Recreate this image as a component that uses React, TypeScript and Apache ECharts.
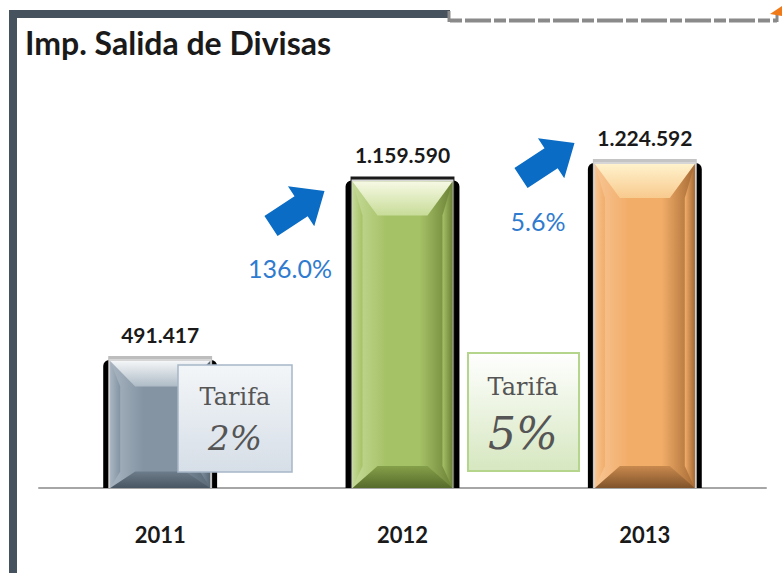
import React, { useEffect, useRef } from "react";
import * as echarts from "echarts";

// ---- data ----
const years = ["2011", "2012", "2013"];
const values = [491417, 1159590, 1224592];
const tarifaTitle = "Tarifa";
const tarifaRates = ["2%", "5%"];
const chartTitle = "Imp. Salida de Divisas";

// ---- styles ----
const palettes = [
  { base: "#8494a3", sideL: "#a9b5c1", sideR: "#5a6875", light: "#f4f6f8", topMid: "#aebbc6", dark: "#485562", bmid: "#6e7d8b", strip: "#bdbdbd" },
  { base: "#a6c267", sideL: "#c4d997", sideR: "#6b8136", light: "#f6f9e4", topMid: "#c8dc98", dark: "#566a2a", bmid: "#85a04a", strip: "#1a1a1a" },
  { base: "#f2ad69", sideL: "#f7c594", sideR: "#a56a34", light: "#fff2cc", topMid: "#f8ca8e", dark: "#80532a", bmid: "#c98a4e", strip: "#c4c4c4" },
];

const fmt = (v: number) => String(v).replace(/\B(?=(\d{3})+(?!\d))/g, ".");
const pct = (a: number, b: number) => ((b / a - 1) * 100).toFixed(1) + "%";

const lg = (x2: number, y2: number, stops: string[]) =>
  new echarts.graphic.LinearGradient(
    0, 0, x2, y2,
    stops.map((c, k) => ({ offset: k / (stops.length - 1), color: c }))
  );

const renderBar = (params: any, api: any) => {
  const i = params.dataIndex;
  const p = palettes[i];
  const cat = api.value(0);
  const v = api.value(1);
  const base = api.coord([cat, 0]);
  const top = api.coord([cat, v]);
  const bw = api.size([1, 0])[0] * 0.47;
  const cx = base[0];
  const x0 = cx - bw / 2;
  const x1 = cx + bw / 2;
  const y0 = top[1];
  const y1 = base[1];
  const h = y1 - y0;
  const fx0 = x0 + 7, fx1 = x1 - 7, fy0 = y0 + 5, fy1 = y1;
  const fw = fx1 - fx0, fh = fy1 - fy0;
  const b = Math.min(26, fw * 0.25);
  const bt = Math.min(34, fh * 0.2);
  const bb = Math.min(22, fh * 0.13);
  const s = b * 0.4;
  return {
    type: "group",
    children: [
      { type: "rect", shape: { x: x0, y: y0 + 4, width: bw, height: h - 4, r: [6, 6, 0, 0] }, style: { fill: "#000" } },
      { type: "rect", shape: { x: x0 + 5, y: y0, width: bw - 10, height: h }, style: { fill: p.strip } },
      { type: "rect", shape: { x: x0 + 6, y: y0 + 3, width: bw - 12, height: h - 3 }, style: { fill: "#d6d6d6" } },
      { type: "rect", shape: { x: fx0, y: fy0, width: fw, height: fh }, style: { fill: lg(1, 0, [p.sideL, p.base, p.base, p.sideR]) } },
      { type: "polygon", shape: { points: [[fx0, fy0], [fx0 + s, fy0 + bt], [fx0 + s, fy1 - bb], [fx0, fy1]] }, style: { fill: lg(1, 0, [p.sideL, p.base]) } },
      { type: "polygon", shape: { points: [[fx1, fy0], [fx1 - s, fy0 + bt], [fx1 - s, fy1 - bb], [fx1, fy1]] }, style: { fill: lg(1, 0, [p.base, p.sideR]) } },
      { type: "polygon", shape: { points: [[fx0, fy0], [fx1, fy0], [fx1 - b, fy0 + bt], [fx0 + b, fy0 + bt]] }, style: { fill: lg(0, 1, [p.light, p.topMid]) } },
      { type: "polygon", shape: { points: [[fx0, fy1], [fx1, fy1], [fx1 - b, fy1 - bb], [fx0 + b, fy1 - bb]] }, style: { fill: lg(0, 1, [p.bmid, p.dark]) } },
      {
        type: "text",
        x: cx,
        y: y0 - 22,
        style: { text: fmt(v), fill: "#1a1a1a", font: "bold 21px Lato", align: "center", verticalAlign: "middle" },
      },
    ],
  };
};

const arrowPts = [[0, -12], [36, -12], [36, -24], [64, 0], [36, 24], [36, 12], [0, 12]];

export default function App() {
  const ref = useRef<HTMLDivElement>(null);
  useEffect(() => {
    if (!ref.current) return;
    const chart = echarts.init(ref.current, undefined, { renderer: "svg" });
    const growth = [pct(values[0], values[1]), pct(values[1], values[2])];
    const option: any = {
      animation: false,
      backgroundColor: "#ffffff",
      title: {
        text: chartTitle,
        left: 20,
        top: 21,
        textStyle: { fontFamily: "Lato", fontWeight: "bold", fontSize: 32, color: "#1a1a1a" },
      },
      grid: { left: 39, right: 16, top: 112, bottom: 85, containLabel: false },
      xAxis: {
        type: "category",
        data: years,
        axisLine: { lineStyle: { color: "#a6a6a6", width: 2 } },
        axisTick: { show: false },
        axisLabel: { margin: 35, fontFamily: "Lato", fontWeight: "bold", fontSize: 22, color: "#1a1a1a" },
      },
      yAxis: { type: "value", min: 0, max: 1400000, show: false, splitLine: { show: false } },
      series: [
        {
          type: "custom",
          renderItem: renderBar,
          encode: { x: 0, y: 1 },
          data: years.map((_, i) => [i, values[i]]),
          z: 2,
        },
      ],
      graphic: {
        elements: [
          // frame
          { type: "rect", shape: { x: 9, y: 10, width: 8, height: 563 }, style: { fill: "#46535f" }, z: 50 },
          { type: "rect", shape: { x: 9, y: 10, width: 441, height: 8 }, style: { fill: "#46535f" }, z: 50 },
          { type: "line", shape: { x1: 449, y1: 11, x2: 449, y2: 22 }, style: { stroke: "#8a8a8a", lineWidth: 3 }, z: 50 },
          { type: "line", shape: { x1: 450, y1: 20.5, x2: 777, y2: 20.5 }, style: { stroke: "#8a8a8a", lineWidth: 4, lineDash: [12, 3, 26, 3] }, z: 50 },
          { type: "line", shape: { x1: 777, y1: 13, x2: 777, y2: 22 }, style: { stroke: "#8a8a8a", lineWidth: 3 }, z: 50 },
          { type: "polygon", shape: { points: [[770, 14], [782, 6], [782, 16]] }, style: { fill: "#f07a18" }, z: 51 },
          // arrows
          { type: "polygon", x: 271, y: 226, rotation: 0.58, shape: { points: arrowPts }, style: { fill: "#0a6cc4" }, z: 60 },
          { type: "polygon", x: 521, y: 178, rotation: 0.58, shape: { points: arrowPts }, style: { fill: "#0a6cc4" }, z: 60 },
          { type: "text", x: 290, y: 268, style: { text: growth[0], fill: "#2f7bcf", font: "25px Lato", align: "center", verticalAlign: "middle" }, z: 60 },
          { type: "text", x: 538, y: 221, style: { text: growth[1], fill: "#2f7bcf", font: "25px Lato", align: "center", verticalAlign: "middle" }, z: 60 },
          // tarifa boxes
          {
            type: "rect", shape: { x: 178, y: 365, width: 114, height: 107 },
            style: { fill: lg(0, 1, ["#f3f6f8", "#d6dee7"]), stroke: "#a7b7c7", lineWidth: 1.5 }, z: 70,
          },
          { type: "text", x: 235, y: 397, style: { text: tarifaTitle, fill: "#555555", font: "24px 'DejaVu Serif'", align: "center", verticalAlign: "middle" }, z: 71 },
          { type: "text", x: 235, y: 438, style: { text: tarifaRates[0], fill: "#555555", font: "italic 34px 'DejaVu Serif'", align: "center", verticalAlign: "middle" }, z: 71 },
          {
            type: "rect", shape: { x: 468, y: 353, width: 111, height: 118 },
            style: { fill: lg(0, 1, ["#ffffff", "#d6e7c0"]), stroke: "#b5d48c", lineWidth: 2 }, z: 70,
          },
          { type: "text", x: 523, y: 387, style: { text: tarifaTitle, fill: "#555555", font: "24px 'DejaVu Serif'", align: "center", verticalAlign: "middle" }, z: 71 },
          { type: "text", x: 523, y: 433, style: { text: tarifaRates[1], fill: "#555555", font: "italic 44px 'DejaVu Serif'", align: "center", verticalAlign: "middle" }, z: 71 },
        ],
      },
    };
    chart.setOption(option);
    return () => chart.dispose();
  }, []);
  return (
    <div
      ref={ref}
      style={{ position: "fixed", left: 0, top: 0, width: 782, height: 573, background: "#fff" }}
    />
  );
}
